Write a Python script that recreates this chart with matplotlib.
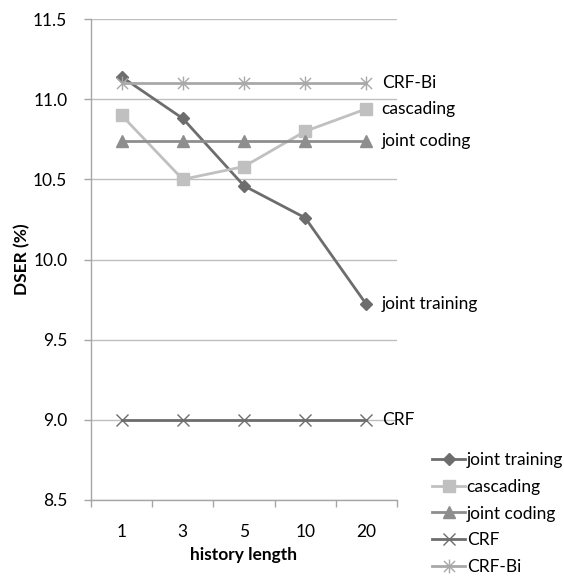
import matplotlib.pyplot as plt
from matplotlib.path import Path

# --- data ---------------------------------------------------------
history = ["1", "3", "5", "10", "20"]
joint_training = [11.14, 10.88, 10.46, 10.26, 9.72]
cascading = [10.90, 10.50, 10.58, 10.80, 10.94]
joint_coding = [10.74, 10.74, 10.74, 10.74, 10.74]
crf = [9.00, 9.00, 9.00, 9.00, 9.00]
crf_bi = [11.10, 11.10, 11.10, 11.10, 11.10]

plt.rcParams['font.family'] = ['Lato', 'DejaVu Sans']

# Excel style star marker: x with a vertical bar
star = Path([(-1, -1), (1, 1), (-1, 1), (1, -1), (0, -1.25), (0, 1.25)],
            [Path.MOVETO, Path.LINETO, Path.MOVETO, Path.LINETO, Path.MOVETO, Path.LINETO])

fig = plt.figure(figsize=(5.64, 5.78), dpi=100)
ax = fig.add_axes([0.1613, 0.135, 0.5426, 0.832])

x = list(range(len(history)))
series = [
    ("joint training", joint_training, "#6d6d6d", "D", 6.5, "#6d6d6d"),
    ("cascading", cascading, "#c0c0c0", "s", 8, "#c0c0c0"),
    ("joint coding", joint_coding, "#8e8e8e", "^", 8.5, "#8e8e8e"),
    ("CRF", crf, "#6d6d6d", "x", 8, "#6d6d6d"),
    ("CRF-Bi", crf_bi, "#a8a8a8", star, 10, "#a8a8a8"),
]
for name, vals, col, mk, ms, mcol in series:
    ax.plot(x, vals, color=col, lw=2.0, marker=mk, markersize=ms,
            markerfacecolor=mcol, markeredgecolor=mcol, markeredgewidth=1.0,
            label=name, zorder=3)
    ax.annotate(name, (x[-1], vals[-1]), xytext=(11, 0), textcoords="offset points",
                ha="left", va="center", fontsize=12.5, color="black")

ax.set_xlim(-0.5, len(history) - 0.5)
ax.set_ylim(8.5, 11.5)
ax.set_yticks([8.5, 9.0, 9.5, 10.0, 10.5, 11.0, 11.5])
ax.set_yticklabels([f"{v:.1f}" for v in ax.get_yticks()])
ax.set_xticks(x)
ax.set_xticklabels(history)
ax.set_xticks([i - 0.5 for i in range(len(history) + 1)], minor=True)

ax.grid(axis="y", color="#bfbfbf", lw=1.0, zorder=0)
for s in ["top", "right"]:
    ax.spines[s].set_visible(False)
for s in ["left", "bottom"]:
    ax.spines[s].set_color("#a6a6a6")
    ax.spines[s].set_linewidth(1.0)

ax.tick_params(axis="y", direction="out", length=5, width=1, color="#a6a6a6",
               pad=12, labelsize=12.5)
ax.tick_params(axis="x", which="major", length=0, pad=17, labelsize=12.5)
ax.tick_params(axis="x", which="minor", direction="out", length=5, width=1,
               color="#a6a6a6")

ax.set_xlabel("history length", fontsize=12.5, fontweight="bold", labelpad=5)
ax.set_ylabel("DSER (%)", fontsize=12.5, fontweight="bold", labelpad=2)

fig.legend(loc="upper left", bbox_to_anchor=(0.766, 0.218), frameon=False,
           fontsize=12.5, handlelength=1.9, handletextpad=0.1, labelspacing=0.62,
           borderaxespad=0, borderpad=0)

fig.savefig("out.png", dpi=100)
